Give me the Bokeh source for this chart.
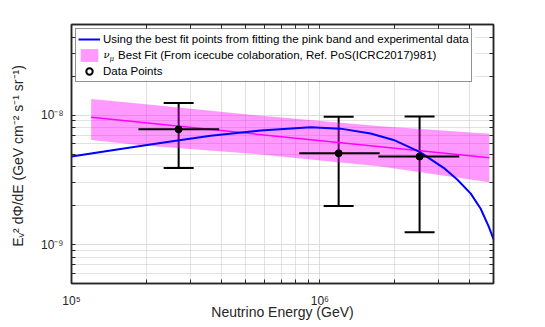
from bokeh.plotting import figure
from bokeh.models import (Range1d, LogAxis, FixedTicker, CustomJSTickFormatter, Legend, LegendItem,
                          ColumnDataSource, Whisker, TeeHead, Label, BoxAnnotation)
from bokeh.embed import file_html
from bokeh.resources import INLINE

# ---- data ----
# blue curve: best-fit points
curve_e = [1.0e5, 1.575e5, 2.39e5, 3.63e5, 5.77e5, 9.18e5, 1.21e6, 1.60e6, 1.98e6, 2.51e6,
           3.15e6, 3.58e6, 4.05e6, 4.44e6, 4.79e6, 5.0e6]
curve_f = [4.78e-9, 5.47e-9, 6.16e-9, 6.93e-9, 7.60e-9, 8.03e-9, 7.85e-9, 7.21e-9, 6.42e-9, 5.22e-9,
           3.91e-9, 3.16e-9, 2.47e-9, 1.89e-9, 1.37e-9, 1.10e-9]

# pink band (IceCube best fit)
band_e = [1.20e5, 1.90e5, 5.51e5, 1.76e6, 4.81e6]
band_hi = [1.327e-8, 1.222e-8, 9.96e-9, 8.20e-9, 7.18e-9]
band_lo = [6.42e-9, 5.83e-9, 4.99e-9, 4.00e-9, 3.03e-9]
best_e = [1.20e5, 4.81e6]
best_f = [9.6e-9, 4.67e-9]

# data points
pt_e = [2.70e5, 1.19e6, 2.52e6]
pt_f = [7.75e-9, 5.07e-9, 4.78e-9]
pt_f_hi = [1.24e-8, 9.7e-9, 9.75e-9]
pt_f_lo = [3.89e-9, 1.98e-9, 1.245e-9]
pt_e_lo = [1.86e5, 8.26e5, 1.72e6]
pt_e_hi = [3.93e5, 1.74e6, 3.64e6]

# ticks
x_ticks = [1e5, 1e6]
x_tick_labels = ["10\u2075", "10\u2076"]
x_minor = [2e5, 3e5, 4e5, 5e5, 6e5, 7e5, 8e5, 9e5, 2e6, 3e6, 4e6, 5e6]
y_ticks = [1e-9, 1e-8]
y_tick_labels = ["10\u207b\u2079", "10\u207b\u2078"]
y_minor = [5e-10, 6e-10, 7e-10, 8e-10, 9e-10, 2e-9, 3e-9, 4e-9, 5e-9, 6e-9, 7e-9, 8e-9, 9e-9,
           2e-8, 3e-8, 4e-8, 5e-8]

legend_labels = ["Using the best fit points from fitting the pink band and experimental data",
                 "\u00a0\u00a0\u00a0\u00a0\u2009Best Fit (From icecube colaboration, Ref. PoS(ICRC2017)981)",
                 "Data Points"]

FONT = "Liberation Sans"
AX = "#262626"

p = figure(width=545, height=327, x_axis_type="log", y_axis_type="log",
           x_range=Range1d(1e5, 5e6), y_range=Range1d(5e-10, 5e-8),
           output_backend="svg", toolbar_location=None,
           min_border_left=71, min_border_right=52, min_border_top=24, min_border_bottom=44)
p.background_fill_color = "white"
p.border_fill_color = "white"
p.outline_line_color = AX
p.outline_line_width = 1.5

fmt_code = """
for (let i = 0; i < vals.length; i++) {
  if (Math.abs(Math.log10(tick) - Math.log10(vals[i])) < 1e-6) return labs[i];
}
return '';
"""
xfmt = CustomJSTickFormatter(args=dict(vals=x_ticks, labs=x_tick_labels), code=fmt_code)
yfmt = CustomJSTickFormatter(args=dict(vals=y_ticks, labs=y_tick_labels), code=fmt_code)
xtk = FixedTicker(ticks=x_ticks, minor_ticks=x_minor)
ytk = FixedTicker(ticks=y_ticks, minor_ticks=y_minor)
# mirror axes (top / right): tick marks only, no labels
xtk_m = FixedTicker(ticks=[], minor_ticks=x_ticks + x_minor)
ytk_m = FixedTicker(ticks=[], minor_ticks=y_ticks + y_minor)


def style_axis(ax, ticker):
    ax.ticker = ticker
    ax.axis_line_color = AX
    ax.axis_line_width = 1.5
    ax.major_tick_line_color = AX
    ax.minor_tick_line_color = AX
    ax.major_tick_in = 4
    ax.major_tick_out = 0
    ax.minor_tick_in = 4
    ax.minor_tick_out = 0
    ax.major_label_text_font = FONT
    ax.major_label_text_color = AX
    ax.major_label_text_font_size = "12px"
    ax.axis_label_text_font = FONT
    ax.axis_label_text_font_size = "14px"
    ax.axis_label_text_font_style = "normal"
    ax.axis_label_text_color = AX


style_axis(p.xaxis[0], xtk)
style_axis(p.yaxis[0], ytk)
p.xaxis[0].formatter = xfmt
p.yaxis[0].formatter = yfmt
p.xaxis[0].axis_label = "Neutrino Energy (GeV)"
p.xaxis[0].major_label_standoff = 10
p.xaxis[0].axis_label_standoff = -7
p.yaxis[0].axis_label = "E\u1d65\u00b2 d\u03a6/dE  (GeV cm\u207b\u00b2 s\u207b\u00b9 sr\u207b\u00b9)"
p.yaxis[0].major_label_standoff = 8
p.yaxis[0].axis_label_standoff = 12

top_ax = LogAxis()
style_axis(top_ax, xtk_m)
right_ax = LogAxis()
style_axis(right_ax, ytk_m)
p.add_layout(top_ax, "above")
p.add_layout(right_ax, "right")

for g, tk in ((p.xgrid[0], xtk), (p.ygrid[0], ytk)):
    g.ticker = tk
    g.grid_line_color = "#dedede"
    g.grid_line_width = 1
    g.minor_grid_line_color = "#c4c4c4"
    g.minor_grid_line_dash = "1 1"
    g.minor_grid_line_width = 1

band = p.varea(x=band_e, y1=band_lo, y2=band_hi, fill_color="#ff00ff", fill_alpha=0.4)
best = p.line(best_e, best_f, line_color="#ff00ff", line_width=1.5)
blue = p.line(curve_e, curve_f, line_color="#0000ff", line_width=2)

src = ColumnDataSource(dict(e=pt_e, f=pt_f, hi=pt_f_hi, lo=pt_f_lo, elo=pt_e_lo, ehi=pt_e_hi))
p.segment(x0="elo", y0="f", x1="ehi", y1="f", source=src, line_color="black", line_width=2)
wh = Whisker(base="e", upper="hi", lower="lo", source=src, dimension="height",
             line_color="black", line_width=2,
             upper_head=TeeHead(size=30, line_color="black", line_width=2),
             lower_head=TeeHead(size=30, line_color="black", line_width=2))
p.add_layout(wh)
# hollow marker used for the legend entry (hidden beneath the filled dots)
legend_marker = p.scatter(x="e", y="f", source=src, size=4, marker="circle", fill_color="white",
                          line_color="black", line_width=2)
p.scatter(x="e", y="f", source=src, size=7, fill_color="black", line_color="black")

# white backdrop behind the (transparent) legend
p.add_layout(BoxAnnotation(left=1.038e5, right=4.2e6, top=4.61e-8, bottom=1.84e-8,
                           fill_color="white", fill_alpha=1.0, line_alpha=0))

# nu_mu symbol in the legend's second row
p.add_layout(Label(x=32, y=229, x_units="screen", y_units="screen", text="\u03bd",
                   text_font="DejaVu Serif", text_font_style="italic",
                   text_font_size="10px", text_color="black", text_baseline="middle"))
p.add_layout(Label(x=38, y=225, x_units="screen", y_units="screen", text="\u03bc",
                   text_font="DejaVu Serif", text_font_style="italic",
                   text_font_size="7px", text_color="black", text_baseline="middle"))

legend = Legend(items=[LegendItem(label=legend_labels[0], renderers=[blue]),
                       LegendItem(label=legend_labels[1], renderers=[band]),
                       LegendItem(label=legend_labels[2], renderers=[legend_marker], index=0)],
                location="top_left", margin=4, padding=2, spacing=0,
                label_height=16, glyph_height=16, glyph_width=22, label_standoff=3,
                label_text_font=FONT, label_text_font_size="11.5px", label_text_color="black",
                border_line_color=AX, border_line_width=1.5, background_fill_alpha=0.0)
p.add_layout(legend)

open("out.html", "w").write(file_html(p, INLINE))
